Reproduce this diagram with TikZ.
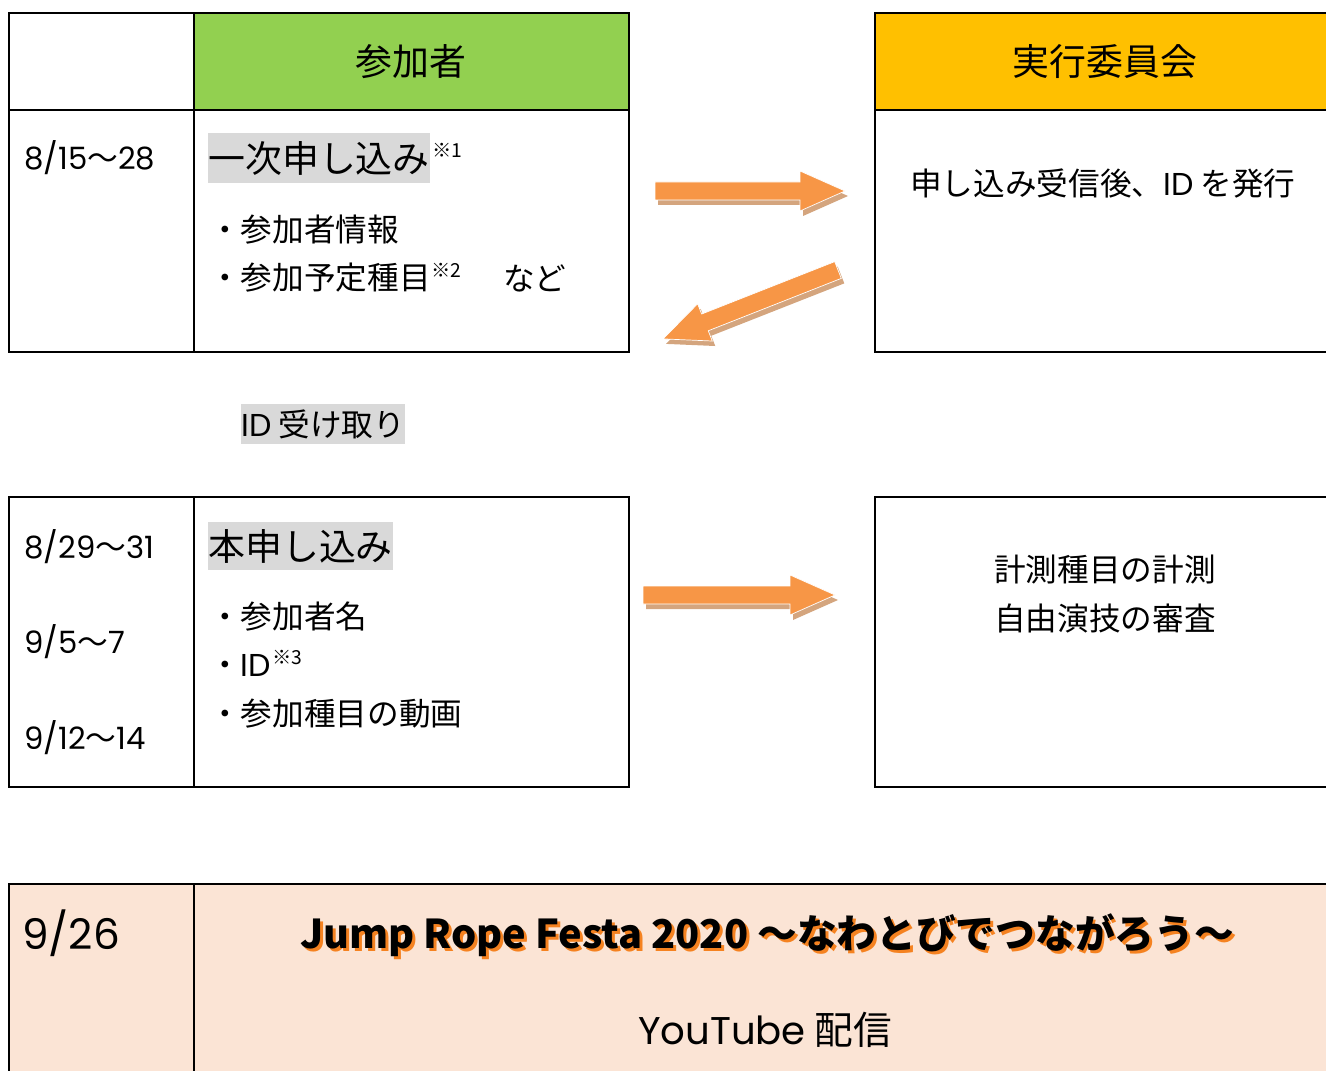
\documentclass[tikz,border=0pt]{standalone}
\usepackage{fontspec}
\setmainfont{Noto Sans CJK JP}
\newfontfamily\lat{Poppins}
\definecolor{hdrgreen}{HTML}{92D050}
\definecolor{hdrgold}{HTML}{FFC000}
\definecolor{peach}{HTML}{FBE4D5}
\definecolor{hlgray}{HTML}{D9D9D9}
\definecolor{arrorange}{HTML}{F79646}
\definecolor{arrshadow}{HTML}{D4A57E}
\definecolor{titleorange}{HTML}{F58220}
\newcommand{\fsz}[1]{\fontsize{#1pt}{#1pt}\selectfont}
\newcommand{\wv}{{\rmfamily 〜}}
\newcommand{\titletext}{Jump Rope Festa 2020 ～なわとびでつながろう～}
\newcommand{\blockarr}[4]{%
  \begin{scope}[shift={(#1+3,#2+5)},rotate=#3]
    \fill[arrshadow] (0,-9) -- (#4-45,-9) -- (#4-45,-20) -- (#4,0) -- (#4-45,20) -- (#4-45,9) -- (0,9) -- cycle;
  \end{scope}
  \begin{scope}[shift={(#1,#2)},rotate=#3]
    \filldraw[fill=arrorange,draw=white,line width=0.4pt] (0,-9) -- (#4-45,-9) -- (#4-45,-20) -- (#4,0) -- (#4-45,20) -- (#4-45,9) -- (0,9) -- cycle;
  \end{scope}}
\begin{document}
\begin{tikzpicture}[x=0.02cm,y=-0.02cm,
  tbl/.style={line width=1.5pt},
  txt/.style={inner sep=0pt},
  hdr/.style={txt,font=\fsz{21}},
  big/.style={txt,anchor=west,font=\fsz{21}},
  body/.style={txt,anchor=west,font=\fsz{18}},
  date/.style={txt,anchor=west,font=\lat\fsz{17.5}},
  hl/.style={fill=hlgray,inner xsep=0pt,inner ysep=0pt,anchor=west},
  sup/.style={txt,anchor=west,font=\fsz{11}}]
\useasboundingbox (0,0) rectangle (1326,1071);
% ---- top-left table
\fill[hdrgreen] (194,13) rectangle (629,110);
\draw[tbl] (9,13) rectangle (629,352);
\draw[tbl] (9,110) -- (629,110) (194,13) -- (194,352);
\node[hdr] (sanka) at (411,62) {参加者};
\node[date] (d1) at (24,158) {8/15\wv28};
\node[big,hl,minimum height=1cm] (ichiji) at (208,158) {一次申し込み};
\node[sup] (s1) at (432,150) {※1};
\node[body] (i1) at (209,230) {・参加者情報};
\node[body] (i2) at (209,278) {・参加予定種目};
\node[sup] (s2) at (431,270) {※2};
\node[body] (nado) at (503,278) {など};
% ---- top-right box
\fill[hdrgold] (875,13) rectangle (1340,110);
\draw[tbl] (1340,13) -- (875,13) -- (875,352) -- (1340,352) (875,110) -- (1340,110);
\node[hdr] (jikko) at (1105,62) {実行委員会};
\node[body] (r1) at (910,183) {申し込み受信後、{\lat ID} を発行};
% ---- ID receive
\node[hl,minimum height=0.82cm,font=\fsz{18}] (idr) at (241,424) {{\lat ID} 受け取り};
% ---- second left table
\draw[tbl] (9,497) rectangle (629,787);
\draw[tbl] (194,497) -- (194,787);
\node[date] (d2) at (24,547) {8/29\wv31};
\node[date] (d3) at (24,642) {9/5\wv7};
\node[date] (d4) at (24,738) {9/12\wv14};
\node[big,hl,minimum height=0.98cm] (hon) at (208,546) {本申し込み};
\node[body] (j1) at (209,617) {・参加者名};
\node[body] (j2) at (209,665) {・{\lat ID}};
\node[sup] (s3) at (272,657) {※3};
\node[body] (j3) at (209,714) {・参加種目の動画};
% ---- second right box
\draw[tbl] (1340,497) -- (875,497) -- (875,787) -- (1340,787);
\node[txt,font=\fsz{18}] (k1) at (1105,570) {計測種目の計測};
\node[txt,font=\fsz{18}] (k2) at (1105,618) {自由演技の審査};
% ---- bottom row
\fill[peach] (9,884) rectangle (1340,1080);
\draw[tbl] (9,1080) -- (9,884) -- (1340,884) (194,884) -- (194,1080);
\node[txt,anchor=west,font=\lat\fsz{24}] (d5) at (22,933) {9/26};
\node[txt,font=\bfseries\fsz{22.6}] (title) at (767,937)
  {\makebox[0pt][l]{\hspace{0.06cm}\raisebox{-0.06cm}{\textcolor{titleorange}{\titletext}}}\titletext};
\node[txt,font=\fsz{22}] (yt) at (765,1030) {{\lat YouTube} 配信};
% ---- arrows
\blockarr{655}{191}{0}{190}
\blockarr{838}{270}{201.5}{188}
\blockarr{643}{595}{0}{192}
\end{tikzpicture}
\end{document}
